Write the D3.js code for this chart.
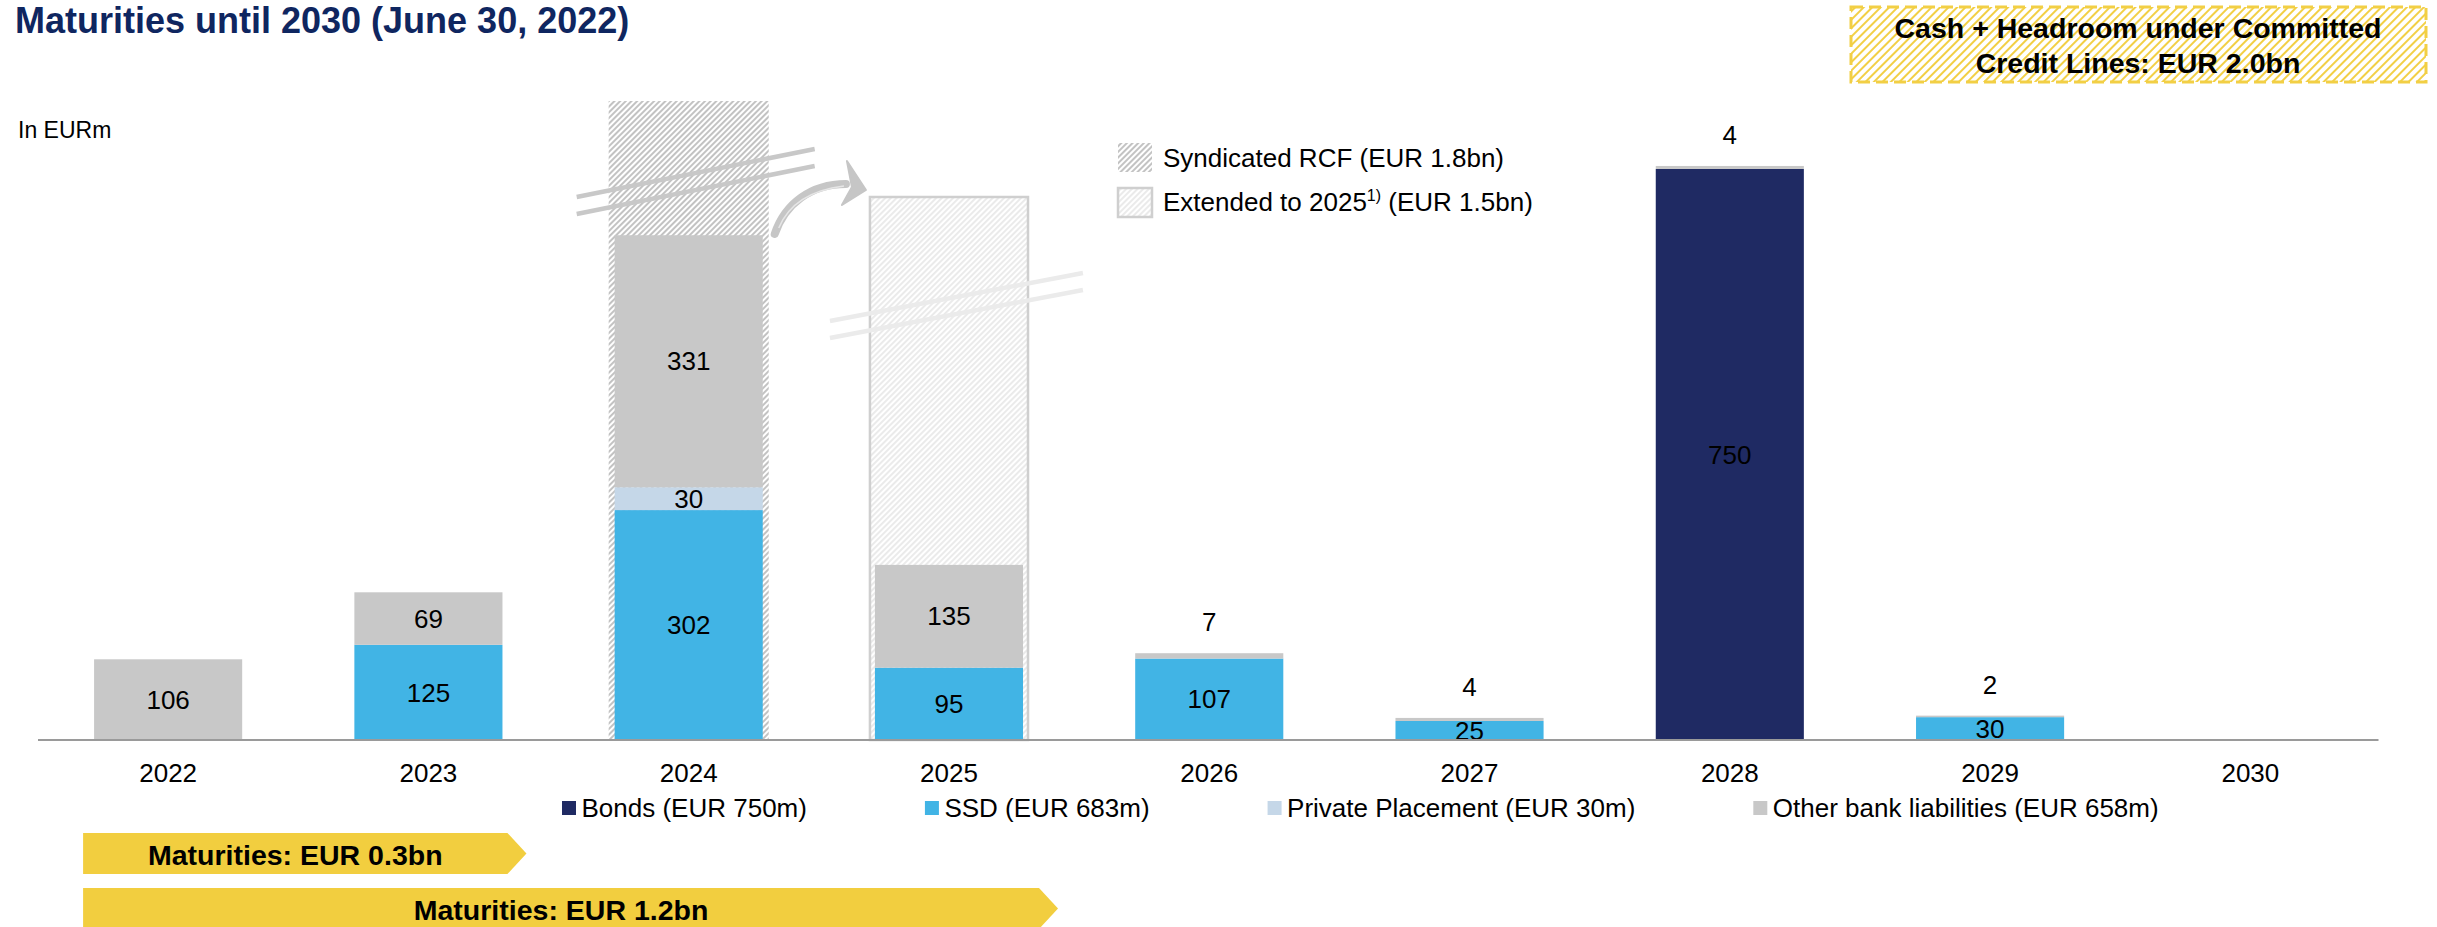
<!DOCTYPE html>
<html>
<head>
<meta charset="utf-8">
<script src="https://cdn.jsdelivr.net/npm/d3@7"></script>
<style>
  html, body { margin: 0; padding: 0; background: #fff; }
  svg { display: block; font-family: "Liberation Sans", Arial, sans-serif; }
</style>
</head>
<body>
<svg id="chart" width="2437" height="927"></svg>
<script>
// Maturity profile in EURm by year
const years = ["2022", "2023", "2024", "2025", "2026", "2027", "2028", "2029", "2030"];
const bonds = [0, 0, 0, 0, 0, 0, 750, 0, 0];
const ssd = [0, 125, 302, 95, 107, 25, 0, 30, 0];
const privatePlacement = [0, 0, 30, 0, 0, 0, 0, 0, 0];
const otherBank = [106, 69, 331, 135, 7, 4, 4, 2, 0];

const seriesNames = ["Bonds (EUR 750m)", "SSD (EUR 683m)", "Private Placement (EUR 30m)", "Other bank liabilities (EUR 658m)"];
const seriesColors = ["#1f2a63", "#41b4e5", "#c5d7e8", "#c8c8c8"];

// Committed credit lines shown behind the bars (EURm)
const creditYears = ["2024", "2025"];
const creditValues = [1800, 1500];

// Cumulative maturities banners: last year covered
const bannerEndYears = ["2023", "2025"];

const svg = d3.select("#chart");
const baseY = 740;

const x = d3.scaleBand()
  .domain(years)
  .range([38, 2380.5])
  .paddingInner(0.431)
  .paddingOuter(0.2155);

const y = d3.scaleLinear().domain([0, 750]).range([baseY, 169]);
// broken axis for the credit-line columns
const yCredit = d3.scaleLinear().domain([0, 1500, 1800]).range([baseY, 197, 101]);

const rows = years.map((yr, i) => ({
  year: yr,
  bonds: bonds[i], ssd: ssd[i], pp: privatePlacement[i], other: otherBank[i]
}));
const keys = ["bonds", "ssd", "pp", "other"];
const stacked = d3.stack().keys(keys)(rows);

// ---------- patterns ----------
const defs = svg.append("defs");
function hatch(id, spacing, width, color) {
  const p = defs.append("pattern")
    .attr("id", id)
    .attr("patternUnits", "userSpaceOnUse")
    .attr("width", spacing).attr("height", spacing)
    .attr("patternTransform", "rotate(45)");
  p.append("rect").attr("width", spacing).attr("height", spacing).attr("fill", "#fff");
  p.append("line").attr("x1", spacing / 2).attr("x2", spacing / 2)
    .attr("y1", 0).attr("y2", spacing)
    .attr("stroke", color).attr("stroke-width", width);
}
hatch("hatchRcf", 4, 1.7, "#b8b8b8");
hatch("hatchExt", 4, 1.3, "#e0e0e0");
hatch("hatchGold", 6, 2, "#f2cf45");

// ---------- title ----------
svg.append("text")
  .attr("x", 15).attr("y", 33)
  .attr("font-size", 36).attr("font-weight", "bold")
  .attr("fill", "#0f2660")
  .text("Maturities until 2030 (June 30, 2022)");

svg.append("text")
  .attr("x", 18).attr("y", 138)
  .attr("font-size", 23).attr("fill", "#000")
  .text("In EURm");

// ---------- cash box ----------
const box = svg.append("g");
box.append("rect")
  .attr("x", 1851).attr("y", 7).attr("width", 575).attr("height", 75)
  .attr("fill", "url(#hatchGold)")
  .attr("stroke", "#f2cf45").attr("stroke-width", 3)
  .attr("stroke-dasharray", "12,6");
box.append("text")
  .attr("x", 2138).attr("y", 38).attr("text-anchor", "middle")
  .attr("font-size", 28.5).attr("font-weight", "bold").attr("fill", "#000")
  .text("Cash + Headroom under Committed");
box.append("text")
  .attr("x", 2138).attr("y", 73).attr("text-anchor", "middle")
  .attr("font-size", 28.5).attr("font-weight", "bold").attr("fill", "#000")
  .text("Credit Lines: EUR 2.0bn");

// ---------- credit-line columns ----------
const creditW = x.step() * 0.615;
const credit = creditYears.map((yr, i) => ({ year: yr, value: creditValues[i], idx: i }));
svg.append("g").selectAll("rect")
  .data(credit)
  .join("rect")
  .attr("x", d => x(d.year) + x.bandwidth() / 2 - creditW / 2 + (d.idx ? 1 : 0))
  .attr("y", d => yCredit(d.value))
  .attr("width", d => d.idx ? creditW - 2 : creditW)
  .attr("height", d => baseY - yCredit(d.value))
  .attr("fill", d => d.idx ? "url(#hatchExt)" : "url(#hatchRcf)")
  .attr("stroke", d => d.idx ? "#cfcfcf" : "none")
  .attr("stroke-width", 2.5);

// ---------- stacked bars ----------
const gBars = svg.append("g");
stacked.forEach((layer, li) => {
  gBars.append("g").selectAll("rect")
    .data(layer.filter(d => d[1] - d[0] > 0))
    .join("rect")
    .attr("x", d => x(d.data.year))
    .attr("y", d => y(d[1]))
    .attr("width", x.bandwidth())
    .attr("height", d => y(d[0]) - y(d[1]))
    .attr("fill", seriesColors[li]);
});

// break marks across the credit columns
const cx = yr => x(yr) + x.bandwidth() / 2;
const breakMarks = [
  { year: "2024", dx0: -112, dx1: 126, ya: 197, yb: 149, color: "#c8c8c8" },
  { year: "2025", dx0: -119, dx1: 134, ya: 321, yb: 273, color: "#ebebeb" }
];
breakMarks.forEach(b => {
  [0, 17].forEach(off => {
    svg.append("line")
      .attr("x1", cx(b.year) + b.dx0).attr("y1", b.ya + off)
      .attr("x2", cx(b.year) + b.dx1).attr("y2", b.yb + off)
      .attr("stroke", b.color).attr("stroke-width", 4.5);
  });
});

// curved arrow from the RCF column to the extended column
{
  const sx = cx("2024") + creditW / 2 + 6;
  const ex = cx("2025") - creditW / 2 - 3;
  const ty = yCredit(1500) - 7;
  const g = svg.append("g");
  g.append("path")
    .attr("d", `M${sx},${ty + 44} C${sx + 10},${ty + 14} ${sx + 36},${ty - 6} ${ex - 20},${ty - 6}`)
    .attr("fill", "none").attr("stroke", "#c6c6c6").attr("stroke-width", 8)
    .attr("stroke-linecap", "round");
  g.append("path")
    .attr("d", `M${sx + 4},${ty + 38} C${sx + 14},${ty + 14} ${sx + 36},${ty} ${ex - 22},${ty - 4}`)
    .attr("fill", "none").attr("stroke", "#e6e6e6").attr("stroke-width", 1.5);
  g.append("path")
    .attr("d", `M${ex - 19},${ty - 29} L${ex},${ty} L${ex - 24},${ty + 15} L${ex - 14},${ty - 3} Z`)
    .attr("fill", "#c6c6c6").attr("stroke", "#c6c6c6").attr("stroke-width", 2)
    .attr("stroke-linejoin", "round");
}

// ---------- value labels ----------
const gLab = svg.append("g").attr("font-size", 26).attr("fill", "#000").attr("text-anchor", "middle");
stacked.forEach(layer => {
  layer.forEach(d => {
    const v = d[1] - d[0];
    if (v <= 0) return;
    const total = d.data.bonds + d.data.ssd + d.data.pp + d.data.other;
    const xc = x(d.data.year) + x.bandwidth() / 2;
    if (v >= 10) {
      gLab.append("text")
        .attr("x", xc).attr("y", (y(d[0]) + y(d[1])) / 2)
        .attr("dy", "0.35em")
        .text(v);
    } else {
      gLab.append("text")
        .attr("x", xc).attr("y", y(total) - 31)
        .attr("dy", "0.35em")
        .text(v);
    }
  });
});

// ---------- axis ----------
const xAxis = d3.axisBottom(x).tickSize(0).tickPadding(0);
const gAxis = svg.append("g").attr("transform", `translate(0,${baseY})`).call(xAxis);
gAxis.select(".domain").attr("d", `M38,0H2378.5`).attr("stroke", "#9a9a9a").attr("stroke-width", 2);
gAxis.selectAll(".tick text")
  .attr("font-size", 26).attr("fill", "#000")
  .attr("font-family", "'Liberation Sans', Arial, sans-serif")
  .attr("dy", null).attr("y", 42);

// ---------- series legend ----------
{
  const g = svg.append("g").attr("font-size", 26).attr("fill", "#000");
  let px = 562;
  seriesNames.forEach((name, i) => {
    g.append("rect").attr("x", px).attr("y", 801).attr("width", 14).attr("height", 14)
      .attr("fill", seriesColors[i]);
    const t = g.append("text").attr("x", px + 19.5).attr("y", 817).text(name);
    px += 19.5 + t.node().getComputedTextLength() + 118;
  });
}

// ---------- credit legend ----------
{
  const g = svg.append("g").attr("font-size", 26).attr("fill", "#000");
  g.append("rect").attr("x", 1118).attr("y", 143).attr("width", 34).attr("height", 29)
    .attr("fill", "url(#hatchRcf)");
  g.append("text").attr("x", 1163).attr("y", 167).text("Syndicated RCF (EUR 1.8bn)");
  g.append("rect").attr("x", 1118).attr("y", 188).attr("width", 34).attr("height", 29)
    .attr("fill", "url(#hatchExt)").attr("stroke", "#cfcfcf").attr("stroke-width", 2.5);
  const t = g.append("text").attr("x", 1163).attr("y", 211);
  t.append("tspan").text("Extended to 2025");
  t.append("tspan").attr("font-size", 16).attr("dy", -10).text("1)");
  t.append("tspan").attr("dy", 10).text(" (EUR 1.5bn)");
}

// ---------- cumulative maturities banners ----------
{
  const totals = rows.map(r => r.bonds + r.ssd + r.pp + r.other);
  const g = svg.append("g");
  const x0 = x(years[0]) - 11;
  bannerEndYears.forEach((endYr, i) => {
    const endIdx = years.indexOf(endYr);
    const sum = d3.sum(totals.slice(0, endIdx + 1)) / 1000;
    const tip = x(endYr) + x.bandwidth() + 24 + i * 11;
    const top = 833 + i * 55, h = 41;
    g.append("path")
      .attr("d", `M${x0},${top} H${tip - 19} L${tip},${top + h / 2} L${tip - 19},${top + h} H${x0} Z`)
      .attr("fill", "#f2ce3f");
    g.append("text")
      .attr("x", (x0 + tip - 19) / 2).attr("y", top + 32)
      .attr("text-anchor", "middle")
      .attr("font-size", 28.5).attr("font-weight", "bold").attr("fill", "#000")
      .text(`Maturities: EUR ${d3.format(".1f")(sum)}bn`);
  });
}
</script>
</body>
</html>
